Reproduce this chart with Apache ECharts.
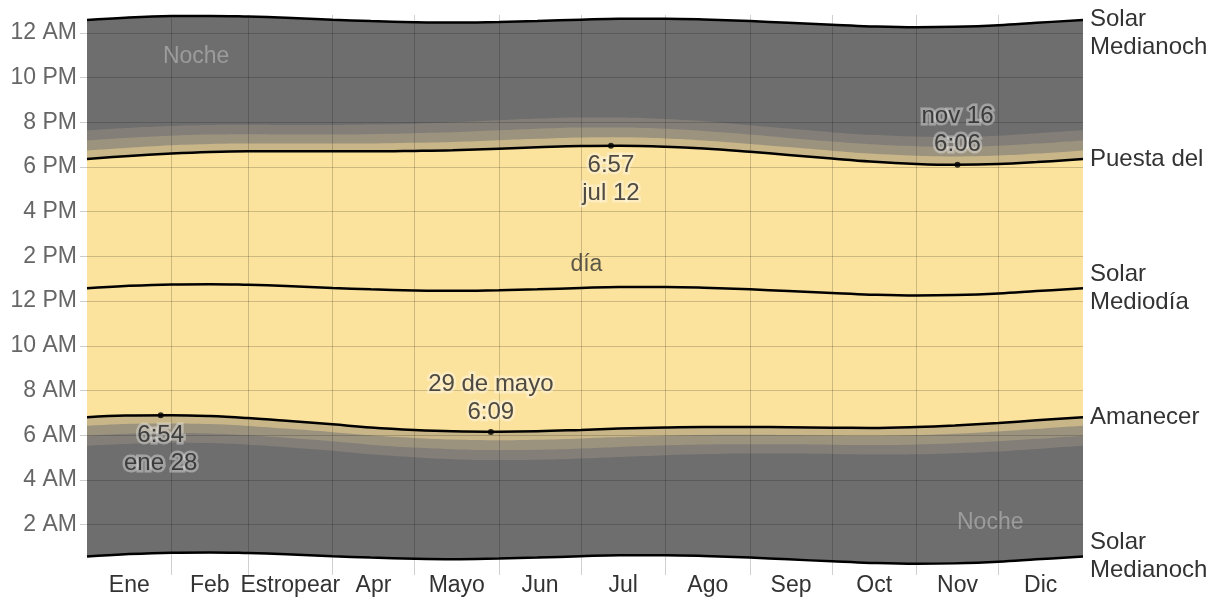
<!DOCTYPE html>
<html>
<head>
<meta charset="utf-8">
<title>Sol durante el año</title>
<script src="https://cdn.jsdelivr.net/npm/echarts@6/dist/echarts.min.js"></script>
<style>
  html, body { margin: 0; padding: 0; background: #fff; }
  #chart { width: 1224px; height: 602px; }
</style>
</head>
<body>
<div id="chart"></div>
<script>
// day of year (Jan 1 = 0) for the sampled dates: 1st and 15th of each month
const days = [0, 14, 31, 45, 59, 73, 90, 104, 120, 134, 151, 165, 181, 195, 212, 226, 243, 257, 273, 287, 304, 318, 334, 348, 365];

// hours of the day
const solarMidnightTop = [24.58, 24.68, 24.75, 24.76, 24.73, 24.68, 24.59, 24.53, 24.48, 24.46, 24.49, 24.53, 24.59, 24.63, 24.63, 24.60, 24.53, 24.45, 24.36, 24.29, 24.25, 24.27, 24.34, 24.45, 24.58];
const astroDusk = [19.64, 19.75, 19.84, 19.88, 19.89, 19.88, 19.88, 19.90, 19.94, 20.00, 20.09, 20.17, 20.22, 20.22, 20.15, 20.05, 19.87, 19.72, 19.56, 19.44, 19.36, 19.34, 19.40, 19.51, 19.64];
const nauticalDusk = [19.19, 19.30, 19.40, 19.45, 19.47, 19.46, 19.46, 19.47, 19.51, 19.55, 19.64, 19.71, 19.77, 19.77, 19.71, 19.61, 19.45, 19.30, 19.14, 19.02, 18.93, 18.90, 18.95, 19.05, 19.19];
const civilDusk = [18.74, 18.85, 18.97, 19.03, 19.05, 19.05, 19.05, 19.05, 19.08, 19.12, 19.20, 19.26, 19.32, 19.33, 19.28, 19.19, 19.03, 18.89, 18.73, 18.60, 18.50, 18.47, 18.51, 18.60, 18.74];
const sunset = [18.36, 18.48, 18.60, 18.67, 18.70, 18.70, 18.70, 18.70, 18.72, 18.75, 18.82, 18.88, 18.94, 18.95, 18.91, 18.83, 18.68, 18.54, 18.38, 18.25, 18.14, 18.10, 18.13, 18.22, 18.36];
const solarNoon = [12.58, 12.68, 12.75, 12.76, 12.73, 12.68, 12.59, 12.53, 12.48, 12.46, 12.49, 12.53, 12.59, 12.63, 12.63, 12.60, 12.53, 12.45, 12.36, 12.29, 12.25, 12.27, 12.34, 12.45, 12.58];
const sunrise = [6.81, 6.88, 6.90, 6.86, 6.77, 6.65, 6.49, 6.35, 6.24, 6.18, 6.16, 6.18, 6.24, 6.30, 6.35, 6.37, 6.37, 6.36, 6.34, 6.33, 6.37, 6.44, 6.55, 6.67, 6.81];
const civilDawn = [6.43, 6.51, 6.53, 6.50, 6.42, 6.30, 6.14, 6.00, 5.88, 5.81, 5.78, 5.80, 5.86, 5.92, 5.98, 6.01, 6.02, 6.01, 5.99, 5.98, 6.01, 6.07, 6.17, 6.29, 6.43];
const nauticalDawn = [5.98, 6.07, 6.10, 6.08, 6.00, 5.89, 5.73, 5.58, 5.45, 5.38, 5.34, 5.35, 5.41, 5.48, 5.55, 5.59, 5.60, 5.60, 5.58, 5.56, 5.59, 5.64, 5.73, 5.84, 5.98];
const astroDawn = [5.53, 5.61, 5.67, 5.65, 5.58, 5.47, 5.31, 5.15, 5.02, 4.93, 4.89, 4.90, 4.96, 5.03, 5.11, 5.15, 5.18, 5.18, 5.16, 5.14, 5.15, 5.20, 5.28, 5.39, 5.53];
const solarMidnightBottom = [0.58, 0.68, 0.75, 0.76, 0.73, 0.68, 0.59, 0.53, 0.48, 0.46, 0.49, 0.53, 0.59, 0.63, 0.63, 0.60, 0.53, 0.45, 0.36, 0.29, 0.25, 0.27, 0.34, 0.45, 0.58];

// axes
const monthStarts = [0, 31, 59, 90, 120, 151, 181, 212, 243, 273, 304, 334, 365];
const monthNames = ['Ene', 'Feb', 'Estropear', 'Apr', 'Mayo', 'Jun', 'Jul', 'Ago', 'Sep', 'Oct', 'Nov', 'Dic'];
const hourTicks = [2, 4, 6, 8, 10, 12, 14, 16, 18, 20, 22, 24];
const hourLabels = ['2 AM', '4 AM', '6 AM', '8 AM', '10 AM', '12 PM', '2 PM', '4 PM', '6 PM', '8 PM', '10 PM', '12 AM'];

// latest / earliest sunrise and sunset
const extremeDays = [27, 148, 192, 319];
const extremeHours = [6.9, 6.15, 18.95, 18.1];
const extremeLabels = ['6:54\nene 28', '29 de mayo\n6:09', '6:57\njul 12', 'nov 16\n6:06'];

// region names
const regionDays = [40, 183, 331];
const regionHours = [22.95, 13.65, 2.08];
const regionLabels = ['Noche', 'día', 'Noche'];

const FONT = '"Liberation Sans", Arial, sans-serif';
const SMOOTH = 0.4;
const NIGHT = '#6e6e6e';
const ASTRO = '#837f78';
const NAUTICAL = '#9c937f';
const CIVIL = '#c8b688';
const DAY = '#fbe29d';

const pair = (ys) => days.map((d, i) => [d, ys[i]]);

// filled from the curve down to the bottom of the axis; later ones paint over earlier ones
function fill(ys, color) {
  return {
    type: 'line',
    data: pair(ys),
    smooth: SMOOTH,
    symbol: 'none',
    silent: true,
    lineStyle: { width: 0, color: 'transparent' },
    areaStyle: { color: color, opacity: 1, origin: 'start' },
  };
}

function curve(ys, label, offsetY) {
  return {
    type: 'line',
    data: pair(ys),
    smooth: SMOOTH,
    symbol: 'none',
    silent: true,
    z: 6,
    lineStyle: { color: '#000', width: 2.5 },
    endLabel: {
      show: true,
      formatter: label,
      distance: 7,
      offset: [0, offsetY || 0],
      color: '#333',
      fontSize: 24,
      lineHeight: 28,
      fontFamily: FONT,
    },
  };
}

const monthMids = monthNames.map((_, i) => (monthStarts[i] + monthStarts[i + 1]) / 2);
const labelAbove = [false, true, false, true];

const option = {
  animation: false,
  textStyle: { fontFamily: FONT },
  grid: { left: 87, right: 141, top: 15, bottom: 27 },
  xAxis: {
    type: 'value',
    z: 10, // keep the month names above the white fill
    min: 0,
    max: 365,
    axisLine: { show: false },
    axisTick: { show: false },
    splitLine: { show: false },
    axisLabel: {
      customValues: monthMids,
      formatter: (v) => monthNames[monthMids.indexOf(v)],
      color: '#333',
      fontSize: 23,
      margin: -1,
    },
  },
  yAxis: {
    type: 'value',
    min: -0.25,
    max: 24.8,
    axisLine: { show: false },
    splitLine: { show: false },
    axisTick: {
      show: true,
      customValues: hourTicks,
      length: 7,
      lineStyle: { color: 'rgba(0,0,0,0.2)' },
    },
    axisLabel: {
      customValues: hourTicks,
      formatter: (v) => hourLabels[hourTicks.indexOf(v)],
      color: '#666',
      fontSize: 23,
      margin: 10,
    },
  },
  series: [
    fill(solarMidnightTop, NIGHT),
    fill(astroDusk, ASTRO),
    fill(nauticalDusk, NAUTICAL),
    fill(civilDusk, CIVIL),
    fill(sunset, DAY),
    fill(sunrise, CIVIL),
    fill(civilDawn, NAUTICAL),
    fill(nauticalDawn, ASTRO),
    fill(astroDawn, NIGHT),
    fill(solarMidnightBottom, '#fff'),
    // grid lines above the fills
    {
      type: 'line',
      data: [],
      z: 5,
      markLine: {
        silent: true,
        z: 5,
        symbol: 'none',
        label: { show: false },
        lineStyle: { color: 'rgba(0,0,0,0.18)', width: 1, type: 'solid' },
        data: monthStarts.slice(1, -1).map((d) => ({ xAxis: d }))
          .concat(hourTicks.map((h) => ({ yAxis: h }))),
      },
    },
    curve(solarMidnightTop, 'Solar\nMedianoch', 13),
    curve(sunset, 'Puesta del'),
    curve(solarNoon, 'Solar\nMediodía'),
    curve(sunrise, 'Amanecer'),
    curve(solarMidnightBottom, 'Solar\nMedianoch'),
    {
      type: 'scatter',
      z: 7,
      silent: true,
      symbolSize: 6,
      itemStyle: { color: '#000' },
      label: {
        show: true,
        distance: 3,
        color: '#222',
        fontSize: 24,
        lineHeight: 28,
        textBorderColor: 'rgba(255,255,255,0.45)',
        textBorderWidth: 5,
      },
      data: extremeDays.map((d, i) => ({
        value: [d, extremeHours[i]],
        label: { position: labelAbove[i] ? 'top' : 'bottom', formatter: extremeLabels[i] },
      })),
    },
    {
      type: 'scatter',
      z: 8,
      silent: true,
      symbolSize: 1,
      itemStyle: { color: 'transparent' },
      label: { show: true, position: 'inside', fontSize: 23 },
      data: regionDays.map((d, i) => ({
        value: [d, regionHours[i]],
        label: { formatter: regionLabels[i], color: regionLabels[i] === 'día' ? '#333' : '#a8a8a8' },
      })),
    },
  ],
};

const chart = echarts.init(document.getElementById('chart'));
chart.setOption(option);
window.addEventListener('resize', () => chart.resize());
</script>
</body>
</html>
